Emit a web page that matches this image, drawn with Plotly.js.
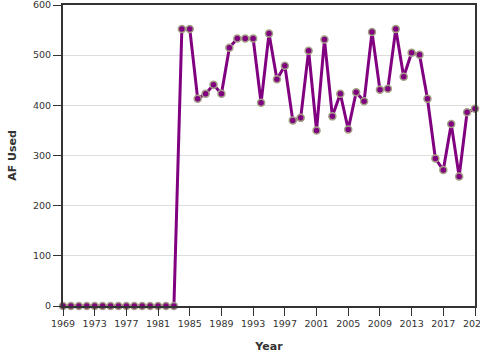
<!DOCTYPE html>
<html>
<head>
<meta charset="utf-8">
<script src="https://cdn.plot.ly/plotly-3.0.1.min.js"></script>
<style>html,body{margin:0;padding:0;background:#fff;}#chart{width:480px;height:360px;}</style>
</head>
<body>
<div id="chart"></div>
<script>
const years = [1969,1970,1971,1972,1973,1974,1975,1976,1977,1978,1979,1980,1981,1982,1983,
  1984,1985,1986,1987,1988,1989,1990,1991,1992,1993,1994,1995,1996,1997,1998,1999,2000,
  2001,2002,2003,2004,2005,2006,2007,2008,2009,2010,2011,2012,2013,2014,2015,2016,2017,
  2018,2019,2020,2021];
const afUsed = [0,0,0,0,0,0,0,0,0,0,0,0,0,0,0,
  552,552,413,423,441,423,515,533,533,533,405,543,452,479,370,375,509,
  350,531,378,423,352,426,408,546,431,433,552,457,505,501,413,294,271,
  363,258,386,393];
const xTickVals = [1969,1973,1977,1981,1985,1989,1993,1997,2001,2005,2009,2013,2017,2021];
const yTickVals = [0,100,200,300,400,500,600];
const xTitle = "Year";
const yTitle = "AF Used";

const trace = {
  x: years, y: afUsed, type: 'scatter', mode: 'lines+markers',
  line: {color: '#800080', width: 3},
  marker: {color: '#800080', size: 7, line: {color: '#a39f85', width: 1.5}},
  cliponaxis: false, hoverinfo: 'x+y'
};
const fontFam = '"DejaVu Sans", Verdana, sans-serif';
const layout = {
  width: 480, height: 360,
  margin: {l: 63, r: 5, t: 5, b: 54},
  paper_bgcolor: '#fff', plot_bgcolor: '#fff',
  showlegend: false,
  font: {family: fontFam, size: 9.5, color: '#333'},
  xaxis: {
    range: [1969, 2021], tickmode: 'array', tickvals: xTickVals, ticktext: xTickVals.map(String),
    showgrid: false, zeroline: false, ticklabeloverflow: 'allow',
    showline: true, linecolor: '#333', linewidth: 2, mirror: true,
    ticks: 'outside', ticklen: 8, tickwidth: 1, tickcolor: '#333',
    title: {text: xTitle, font: {family: fontFam, size: 11, color: '#333', weight: 'bold'}, standoff: 14}
  },
  yaxis: {
    range: [0, 600], tickmode: 'array', tickvals: yTickVals, ticktext: yTickVals.map(String),
    showgrid: true, gridcolor: '#ddd', gridwidth: 1, zeroline: false, ticklabeloverflow: 'allow',
    showline: true, linecolor: '#333', linewidth: 2, mirror: true,
    ticks: 'outside', ticklen: 8, tickwidth: 1, tickcolor: '#333',
    title: {text: yTitle, font: {family: fontFam, size: 11, color: '#333', weight: 'bold'}, standoff: 14}
  }
};
Plotly.newPlot('chart', [trace], layout, {staticPlot: true, displayModeBar: false});
</script>
</body>
</html>
